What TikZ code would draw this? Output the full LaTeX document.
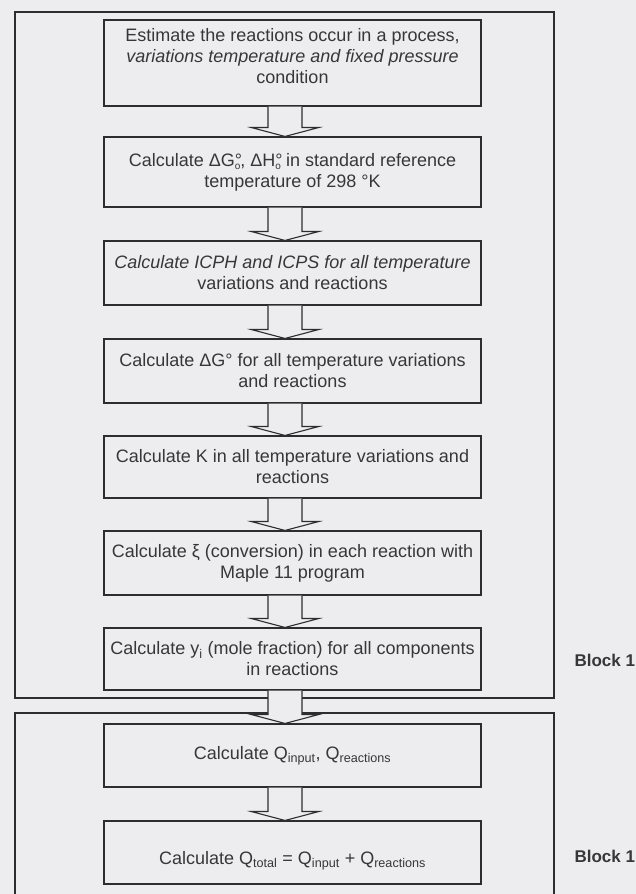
\documentclass[tikz,border=0pt]{standalone}
\usepackage{fontspec}
\setmainfont{Liberation Sans}
\usetikzlibrary{calc}
\definecolor{paper}{RGB}{237,237,239}
\definecolor{ink}{RGB}{45,45,48}
\definecolor{txt}{RGB}{55,55,58}
\newcommand{\degsub}{\rlap{°}\raisebox{-3pt}{\fontsize{10}{10}\selectfont o}}
\newcommand{\flowarrow}[2]{%
  \draw[arrowline] ([xshift=-24.5]#1.south) -- ([xshift=-24.5,yshift=9]#2.north)
    -- ([xshift=-41.5,yshift=9]#2.north) -- ([xshift=-7.5]#2.north)
    -- ([xshift=26.5,yshift=9]#2.north) -- ([xshift=9.5,yshift=9]#2.north)
    -- ([xshift=9.5]#1.south);}
\begin{document}
\begin{tikzpicture}[x=1pt,y=-1pt,
  box/.style={draw=ink, line width=1.1pt, fill=paper, minimum width=377pt,
    align=center, text=txt, font=\fontsize{18}{21}\selectfont, inner sep=0pt},
  arrowline/.style={draw=ink, line width=1.1pt, fill=paper, line join=miter},
  frame/.style={draw=ink, line width=1.1pt},
  blocklabel/.style={font=\fontsize{17}{20}\selectfont\bfseries, text=txt, anchor=west}]
\fill[paper] (0,0) rectangle (636,894);
\useasboundingbox (0,0) rectangle (636,894);
% frames
\draw[frame] (15,12) rectangle (554,698);
\draw[frame] (15,894) -- (15,713) -- (554,713) -- (554,894);
% boxes
\node[box, minimum height=86pt, text depth=14pt] (b1) at (292.5,63)
  {Estimate the reactions occur in a process,\\
   \textit{variations temperature and fixed pressure}\\
   condition};
\node[box, minimum height=70pt] (b2) at (292.5,172)
  {Calculate ΔG\degsub, ΔH\degsub{} in standard reference\\
   temperature of 298 °K};
\node[box, minimum height=64pt] (b3) at (292.5,273)
  {\textit{Calculate ICPH and ICPS for all temperature}\\
   variations and reactions};
\node[box, minimum height=64pt] (b4) at (292.5,371)
  {Calculate ΔG° for all temperature variations\\
   and reactions};
\node[box, minimum height=62pt] (b5) at (292.5,467)
  {Calculate K in all temperature variations and\\
   reactions};
\node[box, minimum height=64pt] (b6) at (292.5,563)
  {Calculate ξ (conversion) in each reaction with\\
   Maple 11 program};
\node[box, minimum height=62pt] (b7) at (292.5,659)
  {Calculate y\textsubscript{i} (mole fraction) for all components\\
   in reactions};
\node[box, minimum height=63pt] (b8) at (292.5,755.5)
  {Calculate Q\textsubscript{input}, Q\textsubscript{reactions}};
\node[box, minimum height=63pt, text height=24pt, text depth=0pt] (b9) at (292.5,852.5)
  {Calculate Q\textsubscript{total} = Q\textsubscript{input} + Q\textsubscript{reactions}};
% arrows
\begin{scope}[on background layer/.style={}]
\flowarrow{b1}{b2}
\flowarrow{b2}{b3}
\flowarrow{b3}{b4}
\flowarrow{b4}{b5}
\flowarrow{b5}{b6}
\flowarrow{b6}{b7}
\flowarrow{b7}{b8}
\flowarrow{b8}{b9}
\end{scope}
% labels
\node[blocklabel] (L1) at (571,660) {Block 1};
\node[blocklabel] (L2) at (571,856) {Block 1};
\end{tikzpicture}
\end{document}
